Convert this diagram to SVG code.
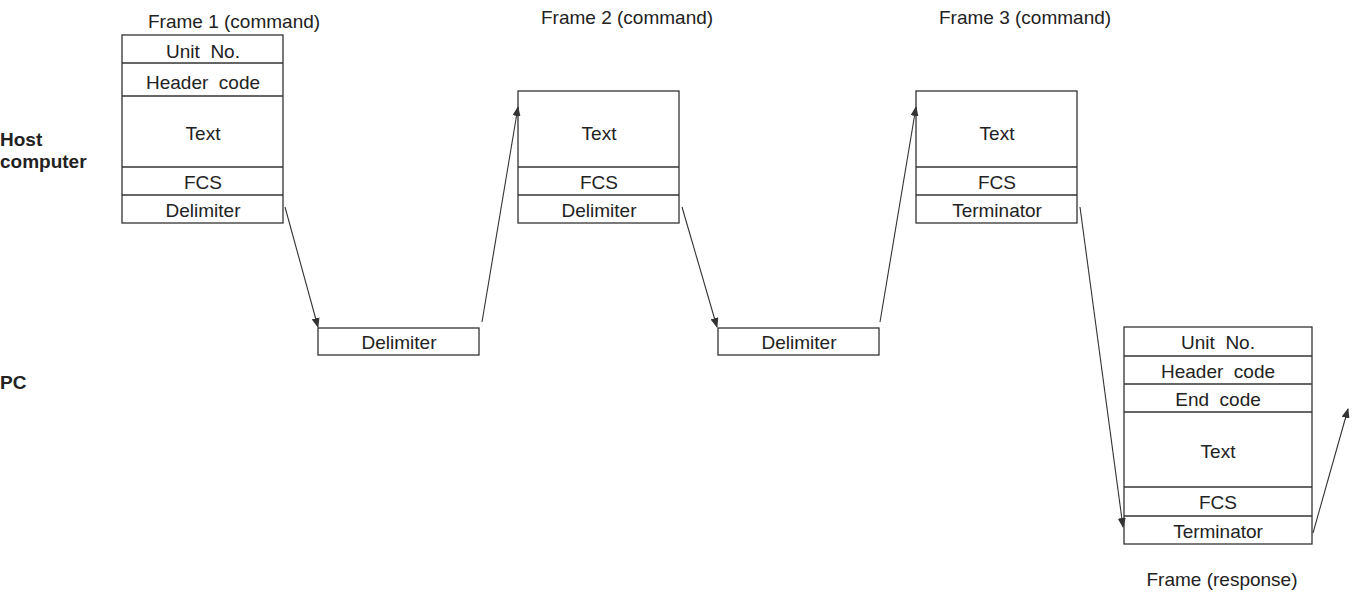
<svg xmlns="http://www.w3.org/2000/svg" width="1356" height="592" viewBox="0 0 1356 592">
<style>
text{font-family:"Liberation Sans",Arial,sans-serif;font-size:19px;fill:#222}
.c{text-anchor:middle}
.b{font-weight:bold}
rect,line.r{fill:#fff;stroke:#333;stroke-width:1.3}
.cn line{stroke:#333;stroke-width:1.1}
</style>
<defs><marker id="a" markerWidth="10" markerHeight="8" refX="9" refY="4" orient="auto" markerUnits="userSpaceOnUse"><path d="M0,0L10,4L0,8z" fill="#333"/></marker></defs>
<rect width="1356" height="592" style="stroke:none"/>
<g id="labels">
<text class="b" x="0" y="146">Host</text><text class="b" x="0" y="168">computer</text>
<text class="b" x="0" y="389">PC</text>
<text x="148" y="28">Frame 1 (command)</text>
<text x="541" y="24">Frame 2 (command)</text>
<text x="939" y="24">Frame 3 (command)</text>
<text class="c" x="1222" y="586">Frame (response)</text>
</g>
<g id="frame1">
<rect x="122" y="35" width="161" height="188"/>
<line class="r" x1="122" y1="63" x2="283" y2="63"/><line class="r" x1="122" y1="96" x2="283" y2="96"/><line class="r" x1="122" y1="167" x2="283" y2="167"/><line class="r" x1="122" y1="195" x2="283" y2="195"/>
<text class="c" x="203" y="58">Unit&#160; No.</text><text class="c" x="203" y="89">Header&#160; code</text><text class="c" x="203" y="140">Text</text><text class="c" x="203" y="189">FCS</text><text class="c" x="203" y="217">Delimiter</text>
</g>
<g id="frame2">
<rect x="518" y="91" width="161" height="132"/>
<line class="r" x1="518" y1="167" x2="679" y2="167"/><line class="r" x1="518" y1="195" x2="679" y2="195"/>
<text class="c" x="599" y="140">Text</text><text class="c" x="599" y="189">FCS</text><text class="c" x="599" y="217">Delimiter</text>
</g>
<g id="frame3">
<rect x="916" y="91" width="161" height="132"/>
<line class="r" x1="916" y1="167" x2="1077" y2="167"/><line class="r" x1="916" y1="195" x2="1077" y2="195"/>
<text class="c" x="997" y="140">Text</text><text class="c" x="997" y="189">FCS</text><text class="c" x="997" y="217">Terminator</text>
</g>
<g id="pcdelim1"><rect x="318" y="328" width="161" height="27"/><text class="c" x="399" y="349">Delimiter</text></g>
<g id="pcdelim2"><rect x="718" y="328" width="161" height="27"/><text class="c" x="799" y="349">Delimiter</text></g>
<g id="response">
<rect x="1124" y="327" width="188" height="217"/>
<line class="r" x1="1124" y1="356" x2="1312" y2="356"/><line class="r" x1="1124" y1="384" x2="1312" y2="384"/><line class="r" x1="1124" y1="412" x2="1312" y2="412"/><line class="r" x1="1124" y1="487" x2="1312" y2="487"/><line class="r" x1="1124" y1="516" x2="1312" y2="516"/>
<text class="c" x="1218" y="349">Unit&#160; No.</text><text class="c" x="1218" y="378">Header&#160; code</text><text class="c" x="1218" y="406">End&#160; code</text><text class="c" x="1218" y="458">Text</text><text class="c" x="1218" y="509">FCS</text><text class="c" x="1218" y="538">Terminator</text>
</g>
<g id="connectors" class="cn">
<line x1="285" y1="207" x2="318" y2="327" marker-end="url(#a)"/>
<line x1="482" y1="322" x2="518" y2="107" marker-end="url(#a)"/>
<line x1="682" y1="207" x2="717" y2="327" marker-end="url(#a)"/>
<line x1="880" y1="322" x2="916" y2="107" marker-end="url(#a)"/>
<line x1="1080" y1="207" x2="1123" y2="527" marker-end="url(#a)"/>
<line x1="1313" y1="533" x2="1348" y2="409" marker-end="url(#a)"/>
</g>
</svg>
